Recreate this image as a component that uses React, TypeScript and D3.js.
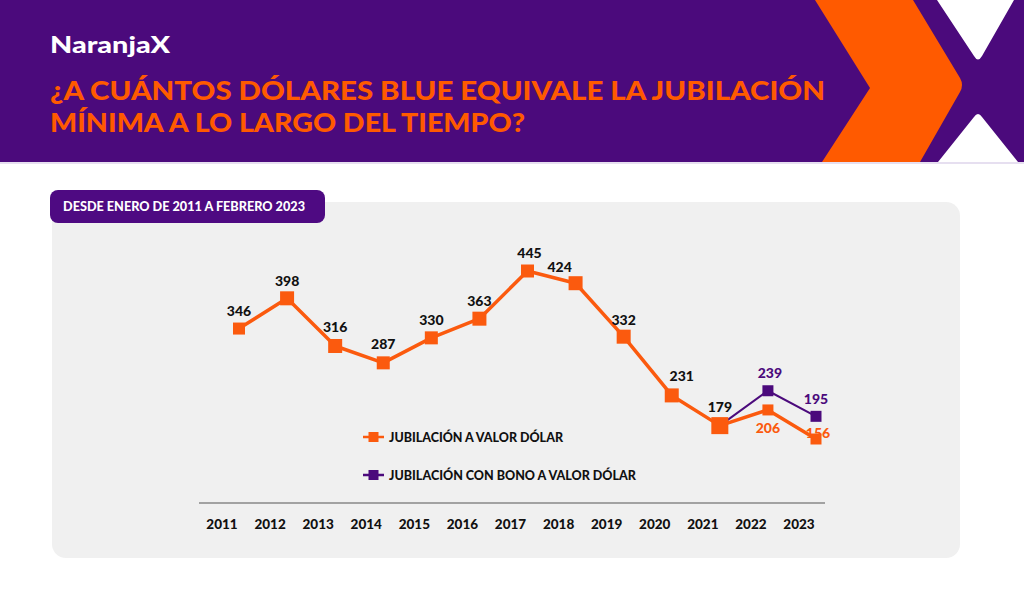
import React from "react";
import * as d3 from "d3";

const years = ["2011","2012","2013","2014","2015","2016","2017","2018","2019","2020","2021","2022","2023"];
const jubilacion = [346, 398, 316, 287, 330, 363, 445, 424, 332, 231, 179, 206, 156];
const bonoYears = ["2021", "2022", "2023"];
const jubilacionBono = [179, 239, 195];

// label offsets (style only)
const orangeLabelOffsets: [number, number][] = [
  [0, -13], [0, -12], [0, -14], [0, -14], [0, -13], [0, -13], [2, -13], [-16, -11], [0, -12], [10, -14], [0, -14], [0, 23], [2, -1],
];
const markerSizes = [12, 14, 14, 13, 13, 14, 13, 14, 14, 14, 17, 11, 11];
const purpleLabelOffsets: [number, number][] = [[0, 0], [2, -13], [0, -12]];

const ORANGE = "#fb5a0e";
const PURPLE = "#4b0a7c";
const FONT = "Lato, 'Open Sans', sans-serif";

export default function App() {
  const x = d3.scalePoint<string>().domain(years).range([239, 816]);
  const y = d3.scaleLinear().domain([156, 445]).range([439, 271]);
  const line = d3.line<number>().x((_, i) => x(years[i])!).y((d) => y(d));
  const lineB = d3.line<number>().x((_, i) => x(bonoYears[i])!).y((d) => y(d));

  return (
    <svg width={1024} height={592} style={{ position: "absolute", left: 0, top: 0, display: "block" }} fontFamily={FONT}>
      <rect x={0} y={0} width={1024} height={592} fill="#ffffff" />
      {/* header */}
      <rect x={0} y={0} width={1024} height={162} fill={PURPLE} />
      <rect x={0} y={162} width={1024} height={2} fill="#e6dff0" />
      {/* orange chevron */}
      <path d="M815,0 L913,0 L960,78 Q964,85 960,92 L920,162 L822,162 L870,88 Z" fill="#ff5a00" />
      {/* white X parts */}
      <path d="M937,0 L1014,0 L982,56 Q978,63 974,56 Z" fill="#ffffff" />
      <path d="M938,162 L974,117 Q978,111 982,117 L1018,162 Z" fill="#ffffff" />
      <text x={50} y={53} fill="#ffffff" fontSize={23} fontWeight={900} fontFamily={FONT} textLength={120} lengthAdjust="spacingAndGlyphs">NaranjaX</text>
      <text x={50} y={100} fill="#ff5a00" fontSize={27} fontWeight={900} textLength={775} lengthAdjust="spacingAndGlyphs">¿A CUÁNTOS DÓLARES BLUE EQUIVALE LA JUBILACIÓN</text>
      <text x={50} y={132} fill="#ff5a00" fontSize={27} fontWeight={900} textLength={475} lengthAdjust="spacingAndGlyphs">MÍNIMA A LO LARGO DEL TIEMPO?</text>

      {/* card */}
      <rect x={52} y={202} width={908} height={356} rx={14} fill="#f0f0f0" />
      <rect x={50} y={190} width={275} height={33} rx={8} fill="#4e0a82" />
      <text x={63} y={211} fill="#ffffff" fontSize={12.5} fontWeight={900} textLength={242} lengthAdjust="spacingAndGlyphs">DESDE ENERO DE 2011 A FEBRERO 2023</text>

      {/* axis */}
      <line x1={199} x2={825} y1={503} y2={503} stroke="#555555" strokeWidth={1.2} />
      {years.map((yr) => (
        <text key={yr} x={x(yr)! - 17} y={529} textAnchor="middle" fontSize={13.5} fontWeight={900} fill="#111">{yr}</text>
      ))}

      {/* lines */}
      <path d={lineB(jubilacionBono)!} fill="none" stroke={PURPLE} strokeWidth={2} />
      <path d={line(jubilacion)!} fill="none" stroke={ORANGE} strokeWidth={3.5} strokeLinejoin="round" />
      {jubilacionBono.map((v, i) => i > 0 && (
        <rect key={"pb" + i} x={x(bonoYears[i])! - 5.5} y={y(v) - 5.5} width={11} height={11} fill={PURPLE} />
      ))}
      {jubilacion.map((v, i) => (
        <rect key={"o" + i} x={x(years[i])! - markerSizes[i] / 2} y={y(v) - markerSizes[i] / 2} width={markerSizes[i]} height={markerSizes[i]} fill={ORANGE} />
      ))}
      {jubilacion.map((v, i) => (
        <text key={"ol" + i} x={x(years[i])! + orangeLabelOffsets[i][0]} y={y(v) + orangeLabelOffsets[i][1]} textAnchor="middle" fontSize={14} fontWeight={900}
          fill={i >= 11 ? ORANGE : "#111"}>{v}</text>
      ))}
      {jubilacionBono.map((v, i) => i > 0 && (
        <text key={"pl" + i} x={x(bonoYears[i])! + purpleLabelOffsets[i][0]} y={y(v) + purpleLabelOffsets[i][1]} textAnchor="middle" fontSize={14} fontWeight={900} fill={PURPLE}>{v}</text>
      ))}

      {/* legend */}
      <line x1={363} x2={384} y1={437} y2={437} stroke={ORANGE} strokeWidth={2.5} />
      <rect x={368.5} y={432} width={10} height={10} fill={ORANGE} />
      <text x={389} y={442} fontSize={12.5} fontWeight={900} fill="#111" textLength={174} lengthAdjust="spacingAndGlyphs">JUBILACIÓN A VALOR DÓLAR</text>
      <line x1={363} x2={384} y1={475} y2={475} stroke={PURPLE} strokeWidth={2.5} />
      <rect x={368.5} y={470} width={10} height={10} fill={PURPLE} />
      <text x={389} y={480} fontSize={12.5} fontWeight={900} fill="#111" textLength={247} lengthAdjust="spacingAndGlyphs">JUBILACIÓN CON BONO A VALOR DÓLAR</text>
    </svg>
  );
}
